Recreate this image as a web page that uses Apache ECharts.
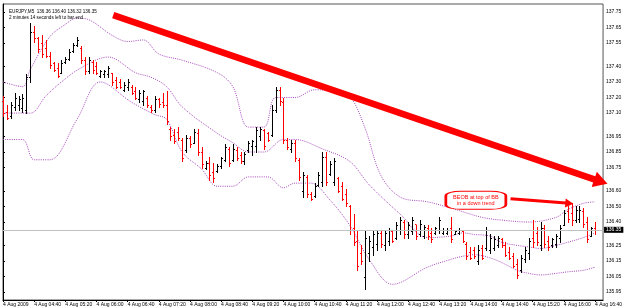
<!DOCTYPE html>
<html><head><meta charset="utf-8">
<script src="https://cdn.jsdelivr.net/npm/echarts@6/dist/echarts.min.js"></script>
<style>html,body{margin:0;padding:0;background:#fff}#c{width:625px;height:308px}</style>
</head><body><div id="c"></div>
<script>
const header = ['EURJPY,M5  136.36 136.40 136.32 136.35', '2 minutes 14 seconds left to bar end'];
const tickLabels = ['4 Aug 2009','4 Aug 04:40','4 Aug 05:20','4 Aug 06:00','4 Aug 06:40','4 Aug 07:20','4 Aug 08:00','4 Aug 08:40','4 Aug 09:20','4 Aug 10:00','4 Aug 10:40','4 Aug 11:20','4 Aug 12:00','4 Aug 12:40','4 Aug 13:20','4 Aug 14:00','4 Aug 14:40','4 Aug 15:20','4 Aug 16:00','4 Aug 16:40'];
const barsPerLabel = 8;
const priceTicks = [137.75,137.65,137.55,137.40,137.30,137.20,137.10,136.95,136.85,136.75,136.60,136.50,136.40,136.25,136.15,136.05,135.95];
const currentPrice = 136.35;

const opens = [137.18,137.11,137.08,137.14,137.15,137.13,137.12,137.33,137.62,137.58,
137.55,137.52,137.47,137.42,137.39,137.36,137.43,137.45,137.50,137.54,
137.52,137.44,137.37,137.43,137.40,137.34,137.35,137.35,137.36,137.31,
137.30,137.25,137.27,137.27,137.24,137.19,137.18,137.20,137.14,137.12,
137.19,137.17,137.15,137.00,136.96,136.98,136.93,136.86,136.94,136.91,
136.97,136.85,136.75,136.78,136.72,136.73,136.76,136.80,136.87,136.80,
136.86,136.83,136.79,136.86,136.89,136.89,136.95,136.99,136.97,136.96,
137.12,137.25,137.17,136.93,136.87,136.91,136.80,136.60,136.69,136.58,
136.57,136.64,136.66,136.82,136.71,136.66,136.68,136.63,136.58,136.50,
136.36,136.28,136.20,136.05,136.20,136.24,136.26,136.33,136.25,136.28,
136.34,136.30,136.35,136.40,136.32,136.34,136.39,136.32,136.31,136.36,
136.33,136.33,136.35,136.33,136.33,136.36,136.32,136.33,136.34,136.26,
136.21,136.22,136.15,136.23,136.23,136.22,136.23,136.25,136.29,136.25,
136.21,136.18,136.13,136.09,136.16,136.20,136.30,136.33,136.25,136.36,
136.28,136.25,136.26,136.30,136.38,136.47,136.46,136.41,136.42,136.47,
136.40,136.31,136.36];
const highs = [137.21,137.15,137.17,137.23,137.21,137.22,137.35,137.68,137.66,137.59,
137.60,137.57,137.49,137.43,137.42,137.44,137.46,137.51,137.55,137.59,
137.53,137.46,137.46,137.44,137.43,137.38,137.38,137.40,137.36,137.33,
137.32,137.30,137.32,137.28,137.27,137.25,137.25,137.21,137.15,137.21,
137.20,137.23,137.24,137.01,137.00,137.01,136.94,136.96,136.95,137.00,
137.00,136.88,136.79,136.82,136.78,136.77,136.82,136.90,136.88,136.90,
136.88,136.85,136.85,136.92,136.93,137.01,137.01,137.00,136.98,137.15,
137.27,137.27,137.20,136.94,136.93,136.93,136.81,136.72,136.70,136.59,
136.65,136.72,136.85,136.85,136.79,136.81,136.69,136.66,136.61,136.51,
136.45,136.35,136.25,136.34,136.31,136.34,136.35,136.34,136.35,136.36,
136.35,136.40,136.43,136.41,136.40,136.43,136.38,136.41,136.38,136.38,
136.36,136.37,136.43,136.36,136.36,136.43,136.35,136.36,136.35,136.27,
136.24,136.24,136.25,136.25,136.37,136.32,136.31,136.31,136.30,136.27,
136.24,136.20,136.16,136.19,136.24,136.30,136.41,136.37,136.40,136.38,
136.31,136.30,136.32,136.38,136.48,136.50,136.52,136.50,136.50,136.49,
136.43,136.37,136.40];
const lows = [137.08,137.06,137.07,137.12,137.12,137.11,137.10,137.30,137.56,137.49,
137.46,137.46,137.39,137.37,137.33,137.36,137.42,137.44,137.49,137.53,
137.42,137.35,137.36,137.36,137.35,137.33,137.33,137.33,137.28,137.26,
137.26,137.24,137.25,137.22,137.19,137.17,137.15,137.14,137.11,137.11,
137.14,137.14,137.03,136.93,136.91,136.93,136.79,136.85,136.88,136.91,
136.83,136.75,136.74,136.67,136.66,136.72,136.75,136.79,136.76,136.79,
136.80,136.78,136.77,136.85,136.83,136.85,136.93,136.87,136.92,136.95,
137.11,137.15,136.91,136.87,136.85,136.79,136.67,136.56,136.56,136.54,
136.56,136.63,136.63,136.64,136.70,136.64,136.59,136.54,136.50,136.32,
136.25,136.09,136.13,135.97,136.15,136.19,136.22,136.24,136.22,136.25,
136.27,136.29,136.32,136.30,136.30,136.32,136.29,136.31,136.30,136.29,
136.27,136.32,136.33,136.32,136.32,136.27,136.32,136.32,136.27,136.16,
136.16,136.17,136.13,136.16,136.22,136.20,136.22,136.24,136.24,136.18,
136.16,136.11,136.04,136.08,136.14,136.16,136.24,136.25,136.22,136.24,
136.22,136.24,136.24,136.27,136.38,136.40,136.38,136.40,136.40,136.37,
136.27,136.31,136.32];
const closes = [137.10,137.07,137.15,137.20,137.19,137.20,137.33,137.62,137.58,137.51,
137.48,137.47,137.41,137.38,137.34,137.42,137.45,137.49,137.54,137.57,
137.44,137.37,137.44,137.38,137.36,137.37,137.37,137.39,137.30,137.27,
137.27,137.28,137.30,137.23,137.20,137.23,137.24,137.15,137.12,137.19,
137.16,137.15,137.05,136.95,136.92,136.94,136.81,136.94,136.90,136.98,
136.85,136.77,136.78,136.70,136.68,136.76,136.81,136.88,136.78,136.87,
136.81,136.79,136.84,136.91,136.92,136.99,137.00,136.89,136.93,137.12,
137.25,137.18,136.93,136.88,136.91,136.81,136.69,136.70,136.58,136.55,
136.63,136.70,136.82,136.66,136.77,136.79,136.60,136.55,136.52,136.35,
136.27,136.12,136.15,136.30,136.28,136.32,136.33,136.26,136.33,136.35,
136.28,136.38,136.41,136.32,136.38,136.41,136.31,136.39,136.37,136.31,
136.29,136.36,136.41,136.35,136.35,136.29,136.34,136.35,136.28,136.18,
136.17,136.18,136.22,136.17,136.35,136.30,136.29,136.30,136.25,136.19,
136.17,136.12,136.06,136.17,136.22,136.28,136.27,136.27,136.36,136.26,
136.24,136.29,136.31,136.36,136.46,136.42,136.41,136.48,136.48,136.39,
136.29,136.36,136.35];

// Bollinger band readings: [bar index, price]
const upperBand = [[0,137.30],[5,137.27],[7,137.38],[12,137.59],[16,137.67],[19,137.71],[22,137.70],[28,137.60],[32,137.56],[36,137.57],[40,137.48],[46,137.44],[55,137.36],[59,137.27],[63,137.01],[67,137.01],[70,137.20],[75,137.20],[80,137.25],[85,137.24],[89,137.21],[93,137.00],[97,136.70],[102,136.56],[109,136.53],[115,136.49],[123,136.43],[129,136.41],[135,136.40],[142,136.43],[145,136.48],[149,136.52],[152,136.53]];
const middleBand = [[0,137.10],[7,137.10],[11,137.21],[15,137.30],[20,137.39],[27,137.46],[34,137.36],[38,137.33],[42,137.27],[46,137.14],[55,136.97],[59,136.91],[63,136.85],[67,136.85],[72,136.93],[75,136.93],[82,136.87],[89,136.79],[94,136.64],[102,136.45],[109,136.30],[115,136.31],[118,136.33],[121,136.32],[125,136.31],[128,136.27],[132,136.25],[135,136.24],[138,136.23],[142,136.25],[145,136.27],[149,136.30],[152,136.33]];
const lowerBand = [[0,136.93],[5,136.93],[8,136.80],[12,136.80],[19,137.06],[25,137.30],[33,137.17],[39,137.09],[42,137.06],[46,136.85],[51,136.74],[55,136.63],[59,136.63],[63,136.69],[68,136.69],[72,136.62],[75,136.65],[79,136.65],[84,136.54],[89,136.38],[94,136.16],[100,136.00],[109,136.11],[115,136.16],[118,136.18],[121,136.19],[125,136.17],[128,136.14],[132,136.09],[135,136.07],[138,136.06],[142,136.07],[145,136.08],[149,136.09],[152,136.11]];

const trendArrow = [[28.3,137.73],[153.5,136.66]];
const noteArrow = [[130.3,136.55],[145.4,136.52]];
const noteAt = [121.4,136.54];
const noteText = ['BEOB at top of BB','in a down trend'];

const bars = opens.map((o,i)=>[i,o,highs[i],lows[i],closes[i]]);
const labelIdx = tickLabels.map((_,k)=>k*barsPerLabel);

const chart = echarts.init(document.getElementById('c'), null, {renderer:'canvas'});
const FONT = 'Liberation Sans';
const bandColor = '#a847bb';

function renderBar(params, api){
  const i=api.value(0), o=api.value(1), h=api.value(2), l=api.value(3), c=api.value(4);
  const ph=api.coord([i,h]), pl=api.coord([i,l]), po=api.coord([i,o]), pc=api.coord([i,c]);
  const x=Math.round(ph[0])+0.5;
  const col = c>=o ? '#000000' : '#ff0000';
  const st={stroke:col,lineWidth:1};
  const yo=Math.round(po[1])+0.5, yc=Math.round(pc[1])+0.5;
  return {type:'group',children:[
    {type:'line',shape:{x1:x,y1:Math.round(ph[1]),x2:x,y2:Math.round(pl[1])+1},style:st},
    {type:'line',shape:{x1:x-1.5,y1:yo,x2:x,y2:yo},style:st},
    {type:'line',shape:{x1:x,y1:yc,x2:x+1.5,y2:yc},style:st}
  ]};
}

const bandSeries = (name,data)=>({
  name, type:'line', data, showSymbol:false, smooth:0.35, silent:true, z:1,
  lineStyle:{color:bandColor,width:1,type:[1,1.2]}
});

chart.setOption({
  animation:false,
  backgroundColor:'#ffffff',
  textStyle:{fontFamily:FONT},
  title:{text:header.join('\n'), left:4, top:4, textStyle:{fontSize:4.6, fontWeight:'normal', color:'#000', fontFamily:FONT, lineHeight:5.5}},
  grid:{left:3, right:19, top:4, bottom:8, show:true, borderColor:'#555', borderWidth:1, backgroundColor:'#fff'},
  xAxis:{type:'value', min:0, max:154.06,
    axisLine:{show:true,lineStyle:{color:'#000',width:1}},
    axisTick:{show:true, customValues:labelIdx, length:2, lineStyle:{color:'#000'}},
    axisLabel:{customValues:labelIdx, formatter:(v)=>tickLabels[Math.round(v/barsPerLabel)], align:'left', fontSize:5, color:'#000', margin:2, fontFamily:FONT},
    splitLine:{show:false}},
  yAxis:{type:'value', position:'right', min:135.899, max:137.801,
    axisLine:{show:true,lineStyle:{color:'#000',width:1}},
    axisTick:{show:true, customValues:priceTicks, length:2, lineStyle:{color:'#000'}},
    axisLabel:{customValues:priceTicks, formatter:(v)=>v.toFixed(2), fontSize:5, color:'#000', margin:3, fontFamily:FONT},
    splitLine:{show:false}},
  series:[
    bandSeries('upper',upperBand),
    bandSeries('middle',middleBand),
    bandSeries('lower',lowerBand),
    {name:'price', type:'custom', renderItem:renderBar, data:bars, encode:{x:0,y:[1,2,3,4]}, z:3,
     markLine:{silent:true, animation:false, precision:2,
       data:[
         [{coord:[0,currentPrice], symbol:'none', lineStyle:{color:'#c0c0c0',width:1,type:'solid'}, label:{show:false}},
          {coord:[154.06,currentPrice], symbol:'none'}],
         [{coord:trendArrow[0], symbol:'none', lineStyle:{color:'#ff0000',width:6.5,type:'solid',cap:'butt'}, label:{show:false}},
          {coord:trendArrow[1], symbol:'triangle', symbolSize:[16,14]}],
         [{coord:noteArrow[0], symbol:'none', lineStyle:{color:'#ff0000',width:3,type:'solid'}, label:{show:false}},
          {coord:noteArrow[1], symbol:'triangle', symbolSize:[9,8]}]
       ]},
     markPoint:{silent:true, animation:false,
       data:[
         {coord:noteAt, symbol:'roundRect', symbolSize:[60,18], itemStyle:{color:'#fff',borderColor:'#ff0000',borderWidth:1.5},
          label:{show:true, position:'inside', formatter:noteText.join('\n'), color:'#ff0000', fontSize:5.5, lineHeight:6.5, fontFamily:FONT}},
         {coord:[154.06,currentPrice], symbol:'rect', symbolSize:[0,0],
          label:{show:true, position:'right', distance:1, formatter:currentPrice.toFixed(2), color:'#fff', backgroundColor:'#000', fontSize:5, padding:[1,2,0,2], fontFamily:FONT}}
       ]}
    }
  ]
});
</script></body></html>
